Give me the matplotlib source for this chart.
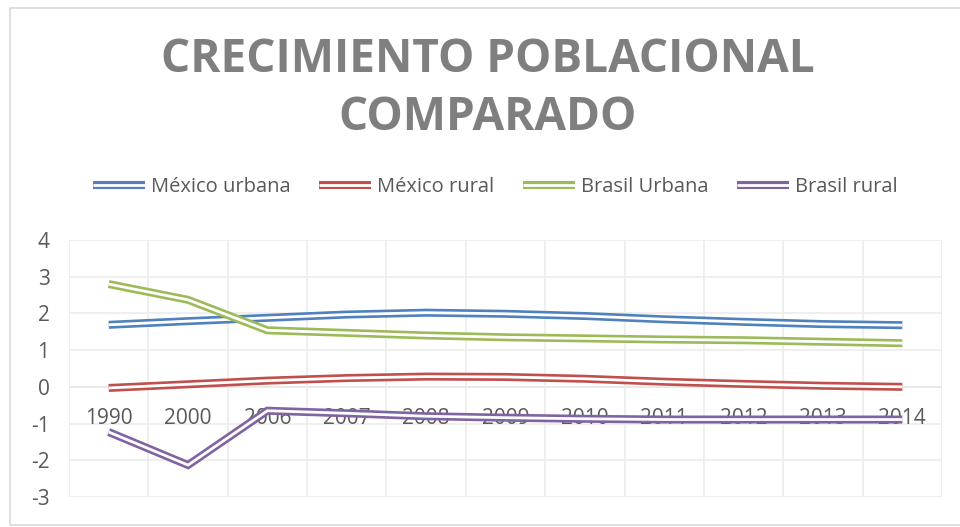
import matplotlib.pyplot as plt
import matplotlib.patheffects as pe
from matplotlib.patches import Rectangle

plt.rcParams['font.family'] = ['Open Sans', 'DejaVu Sans']
plt.rcParams['axes.unicode_minus'] = False

# datos
years = ['1990', '2000', '2006', '2007', '2008', '2009', '2010', '2011', '2012', '2013', '2014']
mex_urbana = [1.69, 1.79, 1.88, 1.97, 2.02, 1.99, 1.93, 1.84, 1.77, 1.71, 1.68]
mex_rural = [-0.03, 0.07, 0.17, 0.24, 0.28, 0.27, 0.22, 0.14, 0.08, 0.03, 0.00]
bra_urbana = [2.80, 2.37, 1.54, 1.47, 1.40, 1.35, 1.32, 1.29, 1.27, 1.23, 1.19]
bra_rural = [-1.23, -2.13, -0.65, -0.72, -0.80, -0.84, -0.87, -0.89, -0.89, -0.89, -0.89]

series = [
    ('México urbana', mex_urbana, '#4f81bd'),
    ('México rural', mex_rural, '#c0504d'),
    ('Brasil Urbana', bra_urbana, '#9bbb59'),
    ('Brasil rural', bra_rural, '#8064a2'),
]

fig = plt.figure(figsize=(9.6, 5.27), dpi=100)
ax = fig.add_axes([69 / 960, 30 / 527, (942 - 69) / 960, (497 - 240) / 527])

# borde del grafico
fig.patches.append(Rectangle((10 / 960, 2 / 527), 1.2, 517 / 527, transform=fig.transFigure,
                             fill=False, edgecolor='#d9d9d9', linewidth=1.2))

x = list(range(len(years)))
for name, vals, col in series:
    # linea doble: trazo ancho de color con linea blanca encima
    ax.plot(x, vals, color='white', linewidth=2.0, label=name, zorder=3,
            solid_joinstyle='miter', solid_capstyle='butt',
            path_effects=[pe.Stroke(linewidth=5.8, foreground=col, joinstyle='miter', capstyle='butt'),
                          pe.Normal()])

ax.set_xlim(-0.5, len(years) - 0.5)
ax.set_ylim(-3, 4)
ax.set_yticks(range(-3, 5))
ax.set_xticks([i - 0.5 for i in range(len(years) + 1)])
ax.set_xticklabels([])
ax.grid(True, color='#ececec', linewidth=1.2, zorder=0)
ax.axhline(0, color='#d9d9d9', linewidth=1.2, zorder=1)
ax.tick_params(length=0, labelsize=15, labelcolor='#595959', pad=14)
for s in ax.spines.values():
    s.set_visible(False)

for i, yr in enumerate(years):
    ax.annotate(yr, xy=(i, 0), xytext=(0, -22.5), textcoords='offset points',
                ha='center', va='center', fontsize=15, color='#595959', zorder=2)

fig.text(0.508, 1 - 60 / 527, 'CRECIMIENTO POBLACIONAL', ha='center', va='center',
         fontsize=33, fontweight='bold', color='#7f7f7f')
fig.text(0.508, 1 - 117 / 527, 'COMPARADO', ha='center', va='center',
         fontsize=33, fontweight='bold', color='#7f7f7f')

fig.legend(loc='center', bbox_to_anchor=(0.516, 1 - 187 / 527), ncol=4, frameon=False,
           fontsize=14.5, labelcolor='#595959', handlelength=2.6, handletextpad=0.3,
           columnspacing=1.4)

fig.savefig('out.png', dpi=100)
